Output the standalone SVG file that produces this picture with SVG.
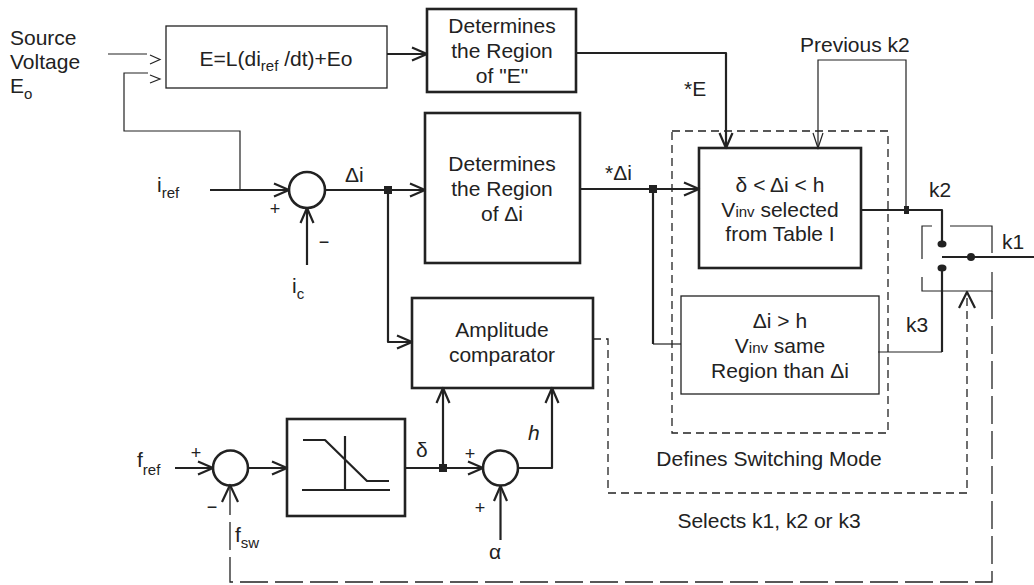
<svg xmlns="http://www.w3.org/2000/svg" width="1034" height="585" viewBox="0 0 1034 585">
<style>
text{font-family:"Liberation Sans",Arial,sans-serif;font-size:21px;fill:#222}
.m{text-anchor:middle}
.sm{font-size:18px}
.thick{fill:none;stroke:#222;stroke-width:2.6}
.thin{fill:none;stroke:#222;stroke-width:1.3}
.w{fill:none;stroke:#222;stroke-width:2.2;stroke-linejoin:round}
.t{fill:none;stroke:#222;stroke-width:1.2}
.d{fill:none;stroke:#222;stroke-width:1.3;stroke-dasharray:8 5}
.ld{fill:none;stroke:#222;stroke-width:1.3;stroke-dasharray:28 7}
.j{fill:#222}
</style>
<defs>
<marker id="ah" markerUnits="userSpaceOnUse" viewBox="-18 -9 20 18" markerWidth="20" markerHeight="18" refX="0" refY="0" orient="auto" overflow="visible">
<path d="M-15,-6.5 L0,0 L-15,6.5" fill="none" stroke="#222" stroke-width="2.2" stroke-linejoin="round"/>
</marker>
<marker id="aht" markerUnits="userSpaceOnUse" viewBox="-18 -9 20 18" markerWidth="20" markerHeight="18" refX="0" refY="0" orient="auto" overflow="visible">
<path d="M-15,-5 L0,0 L-15,5" fill="none" stroke="#222" stroke-width="1.2"/>
</marker>
</defs>

<g id="source-label">
<text x="10" y="45">Source</text>
<text x="10" y="69">Voltage</text>
<text x="10" y="93">E<tspan dy="6" font-size="15">o</tspan></text>
</g>

<g id="emf-block">
<rect class="thin" x="166" y="26" width="221" height="62"/>
<text class="m" x="276" y="66">E=L(di<tspan dy="5" font-size="15">ref</tspan><tspan dy="-5"> /dt)+Eo</tspan></text>
</g>

<g id="region-e">
<rect class="thick" x="427" y="9" width="149" height="83"/>
<text class="m" x="502" y="33">Determines</text>
<text class="m" x="502" y="58">the Region</text>
<text class="m" x="502" y="83">of "E"</text>
</g>

<g id="sum1">
<circle class="thick" cx="307" cy="190" r="18"/>
<text class="sm m" x="275" y="215">+</text>
<text class="sm m" x="324" y="248">−</text>
</g>

<g id="region-di">
<rect class="thick" x="425" y="113" width="155" height="150"/>
<text class="m" x="502" y="171">Determines</text>
<text class="m" x="502" y="196">the Region</text>
<text class="m" x="502" y="221">of Δi</text>
</g>

<g id="amp-comp">
<rect class="thick" x="412" y="298" width="181" height="90"/>
<text class="m" x="502" y="337">Amplitude</text>
<text class="m" x="502" y="362">comparator</text>
</g>

<g id="limiter">
<rect class="thick" x="287" y="419" width="118" height="97"/>
<path class="w" d="M303,440 H325 L367,481 H389 M302,490 H390 M345,436 V490"/>
</g>

<g id="sum-f">
<circle class="thick" cx="230.5" cy="468" r="17.5"/>
<text class="sm m" x="196" y="459">+</text>
<text class="sm m" x="212" y="513">−</text>
</g>

<g id="sum-h">
<circle class="thick" cx="500.5" cy="468" r="17.5"/>
<text class="sm m" x="470" y="460">+</text>
<text class="sm m" x="480" y="514">+</text>
</g>

<g id="mode-group">
<rect class="d" x="672" y="131" width="216" height="302"/>
<text class="m" x="769" y="466">Defines Switching Mode</text>
</g>

<g id="table-block">
<rect class="thick" x="699" y="148" width="162" height="120"/>
<text class="m" x="780" y="192">δ &lt; Δi &lt; h</text>
<text class="m" x="780" y="217">V<tspan font-size="15">inv</tspan> selected</text>
<text class="m" x="780" y="241">from Table I</text>
</g>

<g id="same-region-block">
<rect class="thin" x="681" y="296" width="198" height="98"/>
<text class="m" x="780" y="328">Δi &gt; h</text>
<text class="m" x="780" y="353">V<tspan font-size="15">inv</tspan> same</text>
<text class="m" x="780" y="378">Region than Δi</text>
</g>

<g id="switch">
<path class="t" d="M922,259 V226 H932 M950,226 H992 V253 M992,272 V291 H922 V277"/>
<ellipse class="j" cx="942" cy="244" rx="4.5" ry="3.6"/>
<ellipse class="j" cx="942" cy="268" rx="4.5" ry="3.6"/>
<path class="w" d="M942,257 H1034"/>
<circle class="j" cx="971" cy="257" r="4"/>
<text x="1002" y="249">k1</text>
</g>

<g id="connectors">
<!-- source voltage inputs -->
<path class="t" d="M108,54 H147"/>
<path class="t" d="M150,55 L160,59.5 L150,64"/>
<path class="t" d="M148,73 H124 V131 H240 V190"/>
<path class="t" d="M150,75 L160,79 L150,83"/>
<!-- E to region E -->
<path class="w" d="M387,54 H427" marker-end="url(#ah)"/>
<!-- region E to table -->
<path class="w" d="M576,53 H726 V148" marker-end="url(#ah)"/>
<text x="684" y="96">*E</text>
<!-- previous k2 feedback -->
<path class="t" d="M906,210 V60 H818 V148" marker-end="url(#aht)"/>
<text x="800" y="52">Previous k2</text>
<rect class="j" x="904" y="206" width="5" height="8"/>
<!-- iref -->
<path class="w" d="M210,190 H289" marker-end="url(#ah)"/>
<text x="157" y="192">i<tspan dy="6" font-size="15">ref</tspan></text>
<!-- ic -->
<path class="w" d="M307,265 V208" marker-end="url(#ah)"/>
<text x="292" y="293">i<tspan dy="6" font-size="15">c</tspan></text>
<!-- delta i -->
<path class="w" d="M325,190 H425" marker-end="url(#ah)"/>
<text x="345" y="182">Δi</text>
<rect class="j" x="384" y="186" width="8" height="8"/>
<path class="w" d="M388,190 V342 H412" marker-end="url(#ah)"/>
<!-- *delta i -->
<path class="w" d="M580,189 H699" marker-end="url(#ah)"/>
<text x="605" y="180">*Δi</text>
<rect class="j" x="649" y="185" width="8" height="8"/>
<path class="w" d="M653,189 V344"/>
<path class="t" d="M653,344 H681"/>
<!-- k2 -->
<path class="w" d="M861,210 H942 V243"/>
<text x="929" y="197">k2</text>
<!-- k3 -->
<path class="w" d="M942,270 V352"/>
<path class="t" d="M878,352 H942"/>
<text x="906" y="332">k3</text>
<!-- fref -->
<path class="w" d="M175,468 H213" marker-end="url(#ah)"/>
<text x="137" y="467">f<tspan dy="8" font-size="15">ref</tspan></text>
<path class="w" d="M248,468 H287" marker-end="url(#ah)"/>
<!-- delta -->
<path class="w" d="M405,468 H483" marker-end="url(#ah)"/>
<text x="416" y="457">δ</text>
<rect class="j" x="439" y="464" width="8" height="8"/>
<path class="w" d="M443,468 V388" marker-end="url(#ah)"/>
<!-- h -->
<path class="w" d="M518,468 H552 V388" marker-end="url(#ah)"/>
<text x="528" y="440" font-style="italic">h</text>
<!-- alpha -->
<path class="w" d="M500.5,540 V486" marker-end="url(#ah)"/>
<text x="489" y="559">α</text>
<!-- selects k1,k2,k3 dashed -->
<path class="d" d="M593,339 H608 V493 H967 V294"/>
<path class="w" d="M959,308 L967,292 L975,308"/>
<text class="m" x="769" y="528">Selects k1, k2 or k3</text>
<!-- fsw feedback -->
<path class="ld" d="M992,291 V582 H230 V488"/>
<path class="w" d="M222,502 L230,485 L238,502"/>
<text x="235" y="542">f<tspan dy="6" font-size="15">sw</tspan></text>
</g>
</svg>
